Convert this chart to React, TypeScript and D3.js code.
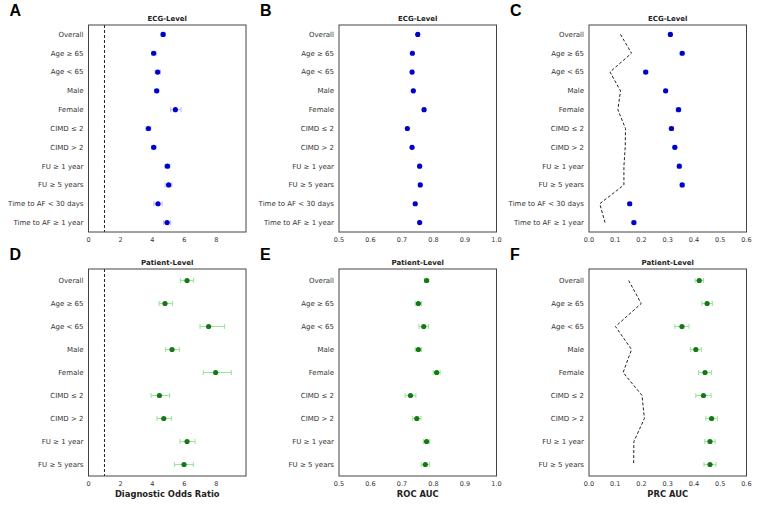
import { scaleLinear, scalePoint, line } from "d3"

const ecgGroups = ["Overall", "Age ≥ 65", "Age < 65", "Male", "Female", "CIMD ≤ 2", "CIMD > 2", "FU ≥ 1 year", "FU ≥ 5 years", "Time to AF < 30 days", "Time to AF ≥ 1 year"]
const patientGroups = ecgGroups.slice(0, 9)

// ECG-level
const ecgDor = [4.67, 4.08, 4.33, 4.27, 5.44, 3.75, 4.08, 4.94, 5.02, 4.35, 4.92]
const ecgDorLo = [4.55, 3.95, 4.17, 4.14, 5.15, 3.6, 3.94, 4.78, 4.8, 4.1, 4.7]
const ecgDorHi = [4.8, 4.22, 4.5, 4.4, 5.79, 3.9, 4.23, 5.1, 5.22, 4.6, 5.14]
const ecgRoc = [0.75, 0.733, 0.732, 0.736, 0.77, 0.717, 0.732, 0.756, 0.758, 0.742, 0.756]
const ecgPrc = [0.31, 0.355, 0.216, 0.292, 0.341, 0.314, 0.327, 0.344, 0.355, 0.155, 0.171]
const ecgPrcErr = [0.006, 0.007, 0.008, 0.006, 0.009, 0.008, 0.007, 0.007, 0.007, 0.007, 0.007]
const ecgBaseline = [0.12, 0.162, 0.08, 0.12, 0.11, 0.139, 0.138, 0.133, 0.133, 0.041, 0.061]

// Patient-level
const patDor = [6.17, 4.79, 7.52, 5.23, 7.96, 4.44, 4.71, 6.17, 5.98]
const patDorLo = [5.75, 4.42, 6.98, 4.83, 7.19, 3.92, 4.29, 5.73, 5.38]
const patDorHi = [6.58, 5.25, 8.52, 5.69, 8.94, 5.08, 5.19, 6.67, 6.56]
const patRoc = [0.778, 0.752, 0.769, 0.752, 0.81, 0.727, 0.747, 0.778, 0.774]
const patRocErr = [0.007, 0.01, 0.015, 0.01, 0.011, 0.017, 0.013, 0.01, 0.013]
const patPrc = [0.42, 0.45, 0.354, 0.407, 0.442, 0.436, 0.467, 0.461, 0.461]
const patPrcErr = [0.016, 0.02, 0.027, 0.021, 0.025, 0.029, 0.022, 0.02, 0.023]
const patBaseline = [0.151, 0.199, 0.101, 0.162, 0.13, 0.202, 0.211, 0.171, 0.17]

const dorTicks = [0, 2, 4, 6, 8]
const rocTicks = [0.5, 0.6, 0.7, 0.8, 0.9, 1.0]
const prcTicks = [0, 0.1, 0.2, 0.3, 0.4, 0.5, 0.6]

const font = "DejaVu Sans, sans-serif"
const blue = { dot: "#0000cc", err: "#b4b9ff" }
const green = { dot: "#137a13", err: "#98e498" }

type PanelProps = {
  letter: string
  title: string
  left: number
  top: number
  groups: string[]
  values: number[]
  lo: number[]
  hi: number[]
  domain: [number, number]
  ticks: number[]
  fmt: (v: number) => string
  colors: { dot: string; err: string }
  refLine?: number
  baseline?: number[]
  xlabel?: string
}

const W = 157.5
const H = 207

const Panel = (p: PanelProps) => {
  const x = scaleLinear().domain(p.domain).range([0, W])
  const y = scalePoint().domain(p.groups).range([0, H]).padding(0.5)
  const base = p.baseline
    ? line<number>().x(d => x(d)).y((d, i) => y(p.groups[i])!)(p.baseline)
    : null
  return (
    <g transform={`translate(${p.left},${p.top})`} fontFamily={font}>
      <text x={-79} y={-9} fontSize={16} fontWeight="bold" fontFamily="Liberation Sans, Arial, sans-serif">{p.letter}</text>
      <text x={W / 2} y={-4} fontSize={7} fontWeight="bold" textAnchor="middle" fill="#222">{p.title}</text>
      {p.refLine !== undefined && (
        <line x1={x(p.refLine)} x2={x(p.refLine)} y1={0} y2={H} stroke="#222" strokeWidth={1} strokeDasharray="3,2" />
      )}
      {base && <path d={base} fill="none" stroke="#222" strokeWidth={1} strokeDasharray="3,2" />}
      {p.groups.map((g, i) => {
        const cy = y(g)!
        return (
          <g key={g}>
            <line x1={x(p.lo[i])} x2={x(p.hi[i])} y1={cy} y2={cy} stroke={p.colors.err} strokeWidth={1} />
            <line x1={x(p.lo[i])} x2={x(p.lo[i])} y1={cy - 2.5} y2={cy + 2.5} stroke={p.colors.err} strokeWidth={1} />
            <line x1={x(p.hi[i])} x2={x(p.hi[i])} y1={cy - 2.5} y2={cy + 2.5} stroke={p.colors.err} strokeWidth={1} />
            <circle cx={x(p.values[i])} cy={cy} r={2.6} fill={p.colors.dot} />
            <text x={-5} y={cy} dy="0.35em" fontSize={7} textAnchor="end" fill="#333">{g}</text>
          </g>
        )
      })}
      <rect x={0} y={0} width={W} height={H} fill="none" stroke="#444" strokeWidth={1} />
      {p.ticks.map(t => (
        <text key={t} x={x(t)} y={H + 10} fontSize={6.5} textAnchor="middle" fill="#333">{p.fmt(t)}</text>
      ))}
      {p.xlabel && (
        <text x={W / 2} y={H + 21} fontSize={8.4} fontWeight="bold" textAnchor="middle" fill="#222">{p.xlabel}</text>
      )}
    </g>
  )
}

const pm = (v: number[], e: number[], s: number) => v.map((d, i) => d + s * e[i])
const tiny = (v: number[], e: number) => v.map(d => d + e)

const App = () => {
  const cols = [88.5, 339, 589]
  const rows = [25, 269]
  const f0 = (v: number) => String(v)
  const f1 = (v: number) => v.toFixed(1)
  return (
    <svg width={759} height={506} style={{ position: "absolute", left: 0, top: 0, background: "#fff" }}>
      <Panel letter="A" title="ECG-Level" left={cols[0]} top={rows[0]} groups={ecgGroups} values={ecgDor} lo={ecgDorLo} hi={ecgDorHi}
        domain={[0, 9.86]} ticks={dorTicks} fmt={f0} colors={blue} refLine={1} />
      <Panel letter="B" title="ECG-Level" left={cols[1]} top={rows[0]} groups={ecgGroups} values={ecgRoc} lo={tiny(ecgRoc, -0.004)} hi={tiny(ecgRoc, 0.004)}
        domain={[0.5, 1.0]} ticks={rocTicks} fmt={f1} colors={blue} />
      <Panel letter="C" title="ECG-Level" left={cols[2]} top={rows[0]} groups={ecgGroups} values={ecgPrc} lo={pm(ecgPrc, ecgPrcErr, -1)} hi={pm(ecgPrc, ecgPrcErr, 1)}
        domain={[0, 0.6]} ticks={prcTicks} fmt={f1} colors={blue} baseline={ecgBaseline} />
      <Panel letter="D" title="Patient-Level" left={cols[0]} top={rows[1]} groups={patientGroups} values={patDor} lo={patDorLo} hi={patDorHi}
        domain={[0, 9.86]} ticks={dorTicks} fmt={f0} colors={green} refLine={1} xlabel="Diagnostic Odds Ratio" />
      <Panel letter="E" title="Patient-Level" left={cols[1]} top={rows[1]} groups={patientGroups} values={patRoc} lo={pm(patRoc, patRocErr, -1)} hi={pm(patRoc, patRocErr, 1)}
        domain={[0.5, 1.0]} ticks={rocTicks} fmt={f1} colors={green} xlabel="ROC AUC" />
      <Panel letter="F" title="Patient-Level" left={cols[2]} top={rows[1]} groups={patientGroups} values={patPrc} lo={pm(patPrc, patPrcErr, -1)} hi={pm(patPrc, patPrcErr, 1)}
        domain={[0, 0.6]} ticks={prcTicks} fmt={f1} colors={green} baseline={patBaseline} xlabel="PRC AUC" />
    </svg>
  )
}

export default App
